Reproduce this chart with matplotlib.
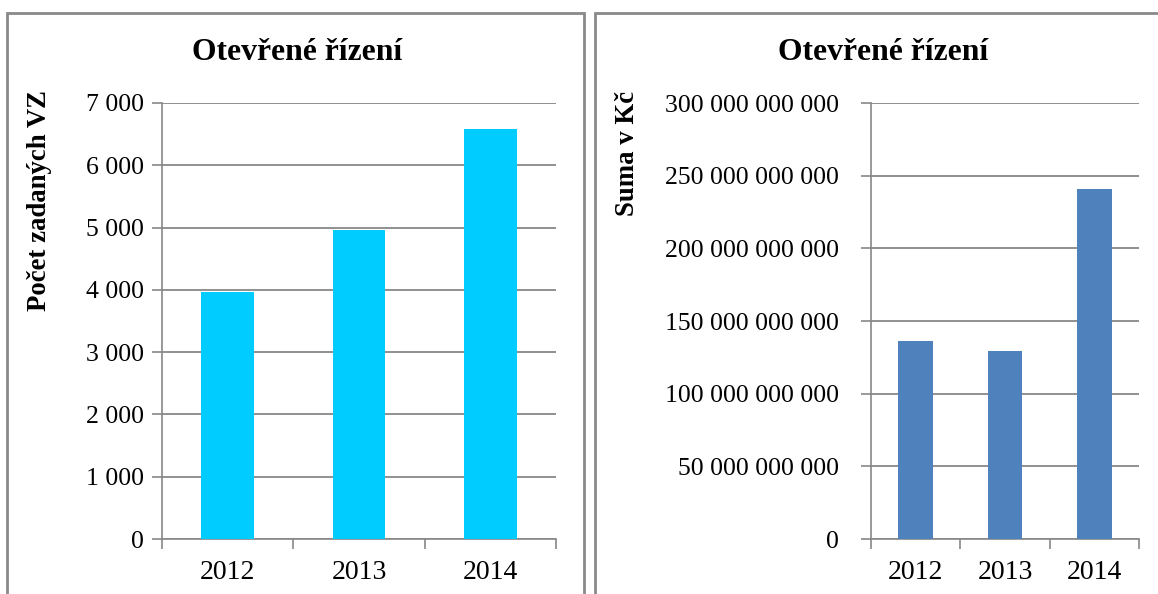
import matplotlib
matplotlib.use("Agg")
import matplotlib.pyplot as plt
from matplotlib.patches import Rectangle
from matplotlib.ticker import FuncFormatter

years = ["2012", "2013", "2014"]
pocet_vz = [3970, 4955, 6575]
suma_kc = [136.5e9, 129.6e9, 240.6e9]

left_title = "Otevřené řízení"
right_title = "Otevřené řízení"
left_ylabel = "Počet zadaných VZ"
right_ylabel = "Suma v Kč"

plt.rcParams['font.family'] = ['Liberation Serif', 'DejaVu Serif']

W, H = 1158, 594
fig = plt.figure(figsize=(W / 100, H / 100), dpi=100)

grid_col = "#888888"


def space_fmt(v, pos):
    return f"{int(round(v)):,}".replace(",", " ")


def make_axes(rect, values, color, ymax, step, barw, ypad):
    ax = fig.add_axes(rect)
    x = list(range(len(years)))
    ax.bar(x, values, width=barw, color=color, zorder=3)
    ax.set_xlim(-0.5, len(years) - 0.5)
    ax.set_ylim(0, ymax)
    ax.set_yticks([i * step for i in range(int(ymax / step) + 1)])
    ax.yaxis.set_major_formatter(FuncFormatter(space_fmt))
    ax.set_xticks(x)
    ax.set_xticklabels(years)
    ax.set_xticks([i - 0.5 for i in range(len(years) + 1)], minor=True)
    ax.tick_params(axis="x", which="major", length=0, pad=15, labelsize=20)
    ax.tick_params(axis="x", which="minor", length=7, width=1.2, color=grid_col, direction="out")
    ax.tick_params(axis="y", length=7, width=1.2, color=grid_col, pad=ypad, labelsize=18.5)
    ax.grid(axis="y", color=grid_col, linewidth=1.3, zorder=0)
    for s in ["top", "right"]:
        ax.spines[s].set_visible(False)
    for s in ["left", "bottom"]:
        ax.spines[s].set_color(grid_col)
        ax.spines[s].set_linewidth(1.2)
    return ax


def frac(x0, y0, x1, y1):
    return [x0 / W, 1 - y1 / H, (x1 - x0) / W, (y1 - y0) / H]


ax1 = make_axes(frac(162, 103, 556, 539), pocet_vz, "#00CCFF", 7000, 1000, 0.4, 6)
ax2 = make_axes(frac(871, 103, 1139, 539), suma_kc, "#4F81BD", 300e9, 50e9, 0.39, 16)

# panel frames
fig.add_artist(Rectangle((7 / W, -0.05), (584 - 7) / W, 1.05 - 13 / H, transform=fig.transFigure,
                         fill=False, edgecolor="#8A8A8A", linewidth=2))
fig.add_artist(Rectangle((595 / W, -0.05), 0.6, 1.05 - 13 / H, transform=fig.transFigure,
                         fill=False, edgecolor="#8A8A8A", linewidth=2))

fig.text(297 / W, 1 - 52 / H, left_title, ha="center", va="center", fontsize=22.8, fontweight="bold")
fig.text(883 / W, 1 - 52 / H, right_title, ha="center", va="center", fontsize=22.8, fontweight="bold")
fig.text(40 / W, 1 - 201 / H, left_ylabel, ha="center", va="center", rotation=90, fontsize=19.3, fontweight="bold")
fig.text(627 / W, 1 - 153 / H, right_ylabel, ha="center", va="center", rotation=90, fontsize=19.3, fontweight="bold")

fig.savefig("out.png", dpi=100)
